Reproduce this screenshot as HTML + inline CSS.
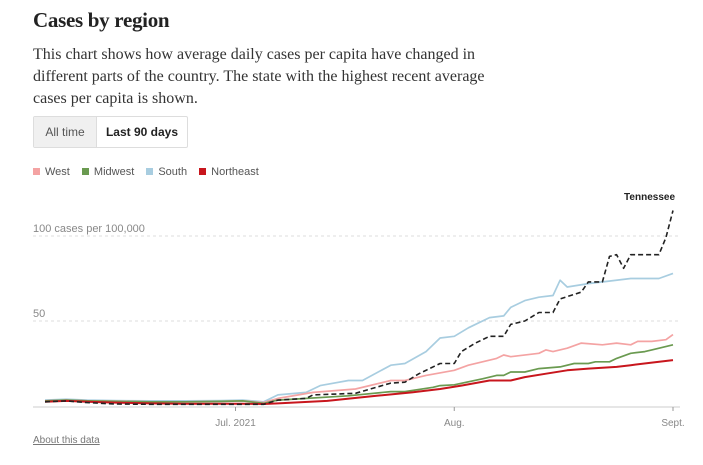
<!DOCTYPE html>
<html><head><meta charset="utf-8"><style>
body{margin:0;width:703px;height:465px;background:#fff;overflow:hidden;position:relative;font-family:"Liberation Sans",sans-serif}
.t{position:absolute;white-space:nowrap}
</style></head><body>
<div class="t" style="left:33px;top:8px;font:bold 21px 'Liberation Serif',serif;color:#222;letter-spacing:-0.3px">Cases by region</div>
<div class="t" style="left:33px;top:44px;font:16px/22px 'Liberation Serif',serif;color:#333">This chart shows how average daily cases per capita have changed in<br>different parts of the country. The state with the highest recent average<br>cases per capita is shown.</div>
<div style="position:absolute;left:33px;top:116px;width:153px;height:30px;border:1px solid #ddd;border-radius:2px;font-size:12px;display:flex">
<div style="width:62px;background:#f0f0f0;border-right:1px solid #ddd;color:#555;line-height:30px;text-align:center">All time</div>
<div style="flex:1;line-height:30px;text-align:center;font-weight:bold;color:#222">Last 90 days</div></div>
<div class="t" style="left:33px;top:166px;font-size:11px;color:#555">
<span><span style="display:inline-block;width:7px;height:7px;background:#f4a3a3;margin-right:5px"></span>West</span>
<span style="margin-left:9px"><span style="display:inline-block;width:7px;height:7px;background:#6a9a50;margin-right:5px"></span>Midwest</span>
<span style="margin-left:9px"><span style="display:inline-block;width:7px;height:7px;background:#a8cde0;margin-right:5px"></span>South</span>
<span style="margin-left:9px"><span style="display:inline-block;width:7px;height:7px;background:#c8161d;margin-right:5px"></span>Northeast</span></div>
<svg id="c" width="703" height="465" style="position:absolute;left:0;top:0"></svg>
<div class="t" style="left:33px;top:435px;font-size:10px;color:#777;text-decoration:underline">About this data</div>
<script>
const early=[0,3,6,10,15,20,25,28,31];
const southDays=early.concat([33,37,39,43,45,49,51,54,56,58,60,63,65,66,68,70,72,73,74,77,83,87,89]);
const southVals=[3.5,4,3.5,3.2,3,3,3.2,3.5,2.5,6.5,8,12,15,15,24,25,32,40,41,46,52,53,58,62,64,65,74,70,72,75,75,78];
const tnDays=early.concat([33,37,38,44,49,51,53,56,58,59,61,63,65,66,68,70,72,73,76,77,79,80,81,82,83,87,88,89]);
const tnVals=[2.5,3,2,1.2,1,1,1,1,1,3.5,4.5,6.5,7.5,13.5,14,19,25,25,32,37,41,41,48,50,55,55,63,67,73,73,88,89,81,89,89,99,115];
const westDays=early.concat([33,38,44,49,51,54,58,60,64,65,66,70,71,72,74,76,79,81,83,84,86,88,89]);
const westVals=[3,3.5,3,2.8,2.5,2.5,2.7,3,2,4.5,8,10,15,15,18,21,24,28,30,29,31,33,32,34,37,36,37,36,38,38,39,42];
const mwDays=early.concat([33,43,49,51,55,56,58,62,64,65,66,68,70,73,75,77,78,80,81,83,85,86,89]);
const mwVals=[3,3.5,3,2.7,2.5,2.5,2.7,3,1.5,3.5,6,8.5,8.5,11,12,12.5,16,18,18,20,20,22,23,25,25,26,26,28,31,32,33,36];
const neDays=early.concat([33,40,47,52,56,59,63,66,68,71,74,77,81,83,86,89]);
const neVals=[2.5,3,2.5,2,1.5,1.3,1.3,1.3,1.2,1.5,3,6,8,10,12,15,15,17,19,21,22,23,24,25.5,27];
const yTicks=[50,100];
const xTickDays=[27,58,89];const xTickLabels=["Jul. 2021","Aug.","Sept."];
const x=d=>45+d*(628/89), y=v=>406-v*1.7;
const svg=document.getElementById('c'),NS="http://www.w3.org/2000/svg";
function mk(t,a,name){const e=document.createElementNS(NS,t);for(const k in a)e.setAttribute(k,a[k]);


svg.appendChild(e);return e;}
yTicks.forEach(v=>{mk('line',{x1:33,x2:680,y1:y(v),y2:y(v),stroke:'#ddd','stroke-dasharray':'3,3'},'gridline-'+v);
const t=mk('text',{x:33,y:y(v)-4,'font-size':11,fill:'#888'},'y-tick-label-'+v);t.textContent=v==100?'100 cases per 100,000':String(v);});
mk('line',{x1:33,x2:680,y1:407,y2:407,stroke:'#ccc'},'x-axis');
xTickDays.forEach((d,i)=>{mk('line',{x1:x(d),x2:x(d),y1:407,y2:411,stroke:'#999'},'x-tick');
const t=mk('text',{x:x(d),y:426,'font-size':10,fill:'#888','text-anchor':'middle'},'x-tick-label');t.textContent=xTickLabels[i];});
function line(days,vals,col,w,dash,name){const d=days.map((k,i)=>(i?'L':'M')+x(k).toFixed(1)+','+y(vals[i]).toFixed(1)).join('');
const a={d:d,fill:'none',stroke:col,'stroke-width':w,'stroke-linejoin':'round'};if(dash)a['stroke-dasharray']=dash;mk('path',a,name);}
line(southDays,southVals,'#a8cde0',1.7,null,'line-south');
line(westDays,westVals,'#f4a3a3',1.7,null,'line-west');
line(mwDays,mwVals,'#6a9a50',1.7,null,'line-midwest');
line(neDays,neVals,'#c8161d',2,null,'line-northeast');
line(tnDays,tnVals,'#222',1.6,'5,3','line-tennessee');
const tl=mk('text',{x:675,y:200,'font-size':10,'font-weight':'bold',fill:'#222','text-anchor':'end'},'tennessee-label');tl.textContent='Tennessee';
</script>
</body></html>
